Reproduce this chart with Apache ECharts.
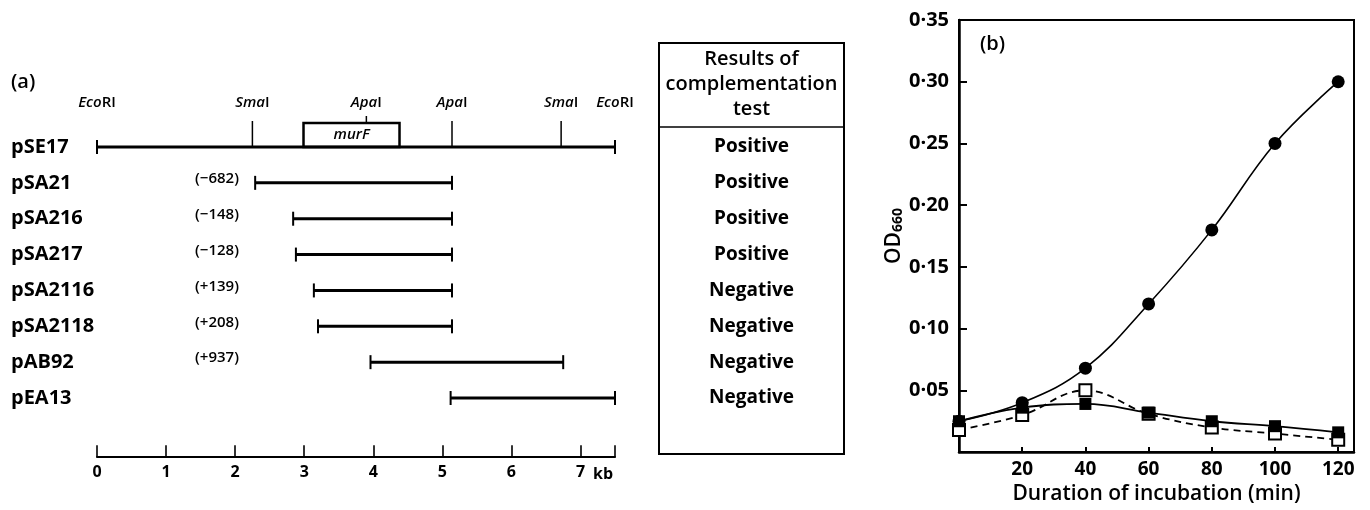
<!DOCTYPE html>
<html><head><meta charset="utf-8">
<script src="https://cdn.jsdelivr.net/npm/echarts@6/dist/echarts.min.js"></script>
<style>html,body{margin:0;padding:0;background:#fff}#c{width:1370px;height:510px}</style>
</head><body><div id="c"></div>
<script>
// ---------- Panel (a) data ----------
const constructs = ['pSE17','pSA21','pSA216','pSA217','pSA2116','pSA2118','pAB92','pEA13'];
const insertStart = [0, 2.29, 2.84, 2.88, 3.14, 3.20, 3.96, 5.12];
const insertEnd   = [7.5, 5.14, 5.14, 5.14, 5.14, 5.14, 6.75, 7.5];
const endpointLabels = ['', '(\u2212682)', '(\u2212148)', '(\u2212128)', '(+139)', '(+208)', '(+937)', ''];
const results = ['Positive','Positive','Positive','Positive','Negative','Negative','Negative','Negative'];
const tableHeader = ['Results of', 'complementation', 'test'];
const siteNames = ['EcoRI','SmaI','ApaI','ApaI','SmaI','EcoRI'];
const sitePos   = [0, 2.25, 3.90, 5.14, 6.72, 7.5];
const geneName = 'murF';
const geneSpan = [2.99, 4.38];
const scaleUnit = 'kb';

// ---------- Panel (b) data ----------
const times = [0, 20, 40, 60, 80, 100, 120];
const odCircle     = [0.025, 0.040, 0.068, 0.120, 0.180, 0.250, 0.300];
const odFilledSq   = [0.025, 0.036, 0.039, 0.032, 0.025, 0.021, 0.016];
const odOpenSq     = [0.018, 0.030, 0.050, 0.031, 0.020, 0.015, 0.010];

const FONT = "'Open Sans', 'Noto Sans', sans-serif";
const BLACK = '#000';

function txt(x, y, text, size, weight, align, extra) {
  return {type:'text', x:x, y:y, style:Object.assign({
    text:text, fill:BLACK, fontSize:size, fontFamily:FONT, fontWeight:weight||'normal',
    align:align||'center', verticalAlign:'middle'}, extra||{})};
}

const chart = echarts.init(document.getElementById('c'), null, {renderer:'canvas'});

const option = {
  animation:false,
  backgroundColor:'#fff',
  grid:[
    {left:97, width:518, top:39.4, height:417.8, containLabel:false},
    {left:959, right:16, top:20, bottom:57, show:true, borderColor:BLACK, borderWidth:2, backgroundColor:'transparent'}
  ],
  xAxis:[
    {gridIndex:0, type:'value', min:0, max:7.5, interval:1, position:'bottom',
     axisLine:{show:true, onZero:false, lineStyle:{color:BLACK, width:2}},
     axisTick:{show:true, inside:true, length:12, lineStyle:{color:BLACK, width:1.6}},
     axisLabel:{color:BLACK, fontSize:16, fontWeight:700, fontFamily:FONT, margin:7,
       formatter:v => (Math.abs(v - Math.round(v)) < 1e-9 ? String(v) : '')},
     splitLine:{show:false}},
    {gridIndex:1, type:'value', min:0, max:125, interval:20,
     axisLine:{show:true, onZero:false, lineStyle:{color:BLACK, width:2.5}},
     axisTick:{show:true, inside:true, length:5, lineStyle:{color:BLACK, width:2}},
     axisLabel:{color:BLACK, fontSize:19, fontWeight:700, fontFamily:FONT, margin:8,
       formatter:v => (v > 0 && v % 20 === 0 ? String(v) : '')},
     splitLine:{show:false},
     name:'Duration of incubation (min)', nameLocation:'middle', nameGap:30,
     nameTextStyle:{color:BLACK, fontSize:21, fontFamily:FONT, fontWeight:600}}
  ],
  yAxis:[
    {gridIndex:0, type:'value', min:-3, max:8.65, inverse:true, show:false},
    {gridIndex:1, type:'value', min:0, max:0.35, interval:0.05,
     axisLine:{show:true, onZero:false, lineStyle:{color:BLACK, width:2.5}},
     axisTick:{show:true, inside:true, length:8, lineStyle:{color:BLACK, width:2}},
     axisLabel:{color:BLACK, fontSize:20, fontWeight:700, fontFamily:FONT, margin:10,
       formatter:v => (v > 0.001 ? v.toFixed(2).replace('.', '\u00b7') : '')},
     splitLine:{show:false},
     name:'OD{s|660}', nameLocation:'middle', nameGap:52, nameRotate:90,
     nameTextStyle:{color:BLACK, fontSize:21, fontFamily:FONT, fontWeight:600,
       rich:{s:{fontSize:14, fontFamily:FONT, fontWeight:700, color:BLACK, verticalAlign:'bottom', padding:[9,0,0,0]}}}}
  ],
  graphic:[
    {type:'text', left:11, top:72, style:{text:'(a)', fill:BLACK, fontSize:20, fontFamily:FONT, fontWeight:600}},
    {type:'text', left:980, top:34, style:{text:'(b)', fill:BLACK, fontSize:20, fontFamily:FONT, fontWeight:600}}
  ],
  series:[
    // results table frame + header
    {type:'custom', xAxisIndex:0, yAxisIndex:0, silent:true, data:[[0,0]],
     renderItem:function(params, api){
       const L = 659, R = 844, T = 43, H = 127, B = 454, cx = (L+R)/2;
       const kids = [
         {type:'rect', shape:{x:L, y:T, width:R-L, height:B-T}, style:{fill:null, stroke:BLACK, lineWidth:2}},
         {type:'line', shape:{x1:L, y1:H, x2:R, y2:H}, style:{stroke:BLACK, lineWidth:1.5}}
       ];
       tableHeader.forEach((t, k) => kids.push(txt(cx, 59 + k*25, t, 20, 600)));
       return {type:'group', children:kids};
     }},
    // gene box
    {type:'custom', xAxisIndex:0, yAxisIndex:0, silent:true, data:[[geneSpan[0], geneSpan[1], 0]],
     renderItem:function(params, api){
       const a = api.coord([api.value(0), api.value(2)]);
       const b = api.coord([api.value(1), api.value(2)]);
       const h = 24;
       return {type:'group', children:[
         {type:'rect', shape:{x:a[0], y:a[1]-h, width:b[0]-a[0], height:h}, style:{fill:'#fff', stroke:BLACK, lineWidth:2.5}},
         txt((a[0]+b[0])/2, a[1]-h/2, geneName, 15, 600, 'center', {fontStyle:'italic'})
       ]};
     }},
    // constructs (lines, names, endpoint labels, results)
    {type:'custom', xAxisIndex:0, yAxisIndex:0, silent:true,
     data: constructs.map((n, i) => [insertStart[i], insertEnd[i], i]),
     renderItem:function(params, api){
       const row = api.value(2);
       const a = api.coord([api.value(0), row]);
       const b = api.coord([api.value(1), row]);
       const y = a[1];
       const x0 = api.coord([0, row])[0];
       const kids = [
         {type:'line', shape:{x1:a[0], y1:y, x2:b[0], y2:y}, style:{stroke:BLACK, lineWidth:3}},
         {type:'line', shape:{x1:a[0], y1:y-7, x2:a[0], y2:y+7}, style:{stroke:BLACK, lineWidth:2}},
         {type:'line', shape:{x1:b[0], y1:y-7, x2:b[0], y2:y+7}, style:{stroke:BLACK, lineWidth:2}},
         txt(x0 - 86, y, constructs[row], 20, 700, 'left')
       ];
       if (endpointLabels[row]) kids.push(txt(x0 + 120, y - 4, endpointLabels[row], 15, 600, 'center'));
       kids.push(txt(751.5, y, results[row], 19, 700, 'center'));
       return {type:'group', children:kids};
     }},
    // restriction sites
    {type:'custom', xAxisIndex:0, yAxisIndex:0, silent:true,
     data: sitePos.map((p, i) => [p, i]),
     renderItem:function(params, api){
       const p = api.value(0);
       const c = api.coord([p, 0]);
       const name = siteNames[api.value(1)];
       const m = name.match(/^([A-Z][a-z]+)(.*)$/);
       const inGene = p > geneSpan[0] && p < geneSpan[1];
       const kids = [];
       if (p > 0 && p < 7.5) {
         if (inGene) kids.push({type:'line', shape:{x1:c[0], y1:c[1]-31, x2:c[0], y2:c[1]-24}, style:{stroke:BLACK, lineWidth:1.5}});
         else kids.push({type:'line', shape:{x1:c[0], y1:c[1]-26, x2:c[0], y2:c[1]}, style:{stroke:BLACK, lineWidth:1.5}});
       }
       kids.push({type:'text', x:c[0], y:c[1]-44, style:{
         text:'{i|' + m[1] + '}{r|' + m[2] + '}', fill:BLACK, fontSize:15, fontFamily:FONT, fontWeight:600,
         align:'center', verticalAlign:'middle',
         rich:{i:{fontStyle:'italic', fontSize:15, fontFamily:FONT, fontWeight:600, fill:BLACK},
               r:{fontSize:15, fontFamily:FONT, fontWeight:600, fill:BLACK}}}});
       return {type:'group', children:kids};
     }},
    // scale unit
    {type:'custom', xAxisIndex:0, yAxisIndex:0, silent:true, data:[[7.5, 8.65]],
     renderItem:function(params, api){
       const c = api.coord([api.value(0), api.value(1)]);
       return txt(c[0] - 12, c[1] + 17, scaleUnit, 16, 700, 'center');
     }},
    // panel (b)
    {type:'line', xAxisIndex:1, yAxisIndex:1, data: times.map((t,i)=>[t, odCircle[i]]),
     smooth:0.4, symbol:'circle', symbolSize:13, showSymbol:true,
     lineStyle:{color:BLACK, width:1.6}, itemStyle:{color:BLACK}, z:2, silent:true},
    {type:'line', xAxisIndex:1, yAxisIndex:1, data: times.map((t,i)=>[t, odOpenSq[i]]),
     smooth:0.4, symbol:'rect', symbolSize:12, showSymbol:true,
     lineStyle:{color:BLACK, width:1.8, type:[7,5]}, itemStyle:{color:'#fff', borderColor:BLACK, borderWidth:2}, z:3, silent:true},
    {type:'line', xAxisIndex:1, yAxisIndex:1, data: times.map((t,i)=>[t, odFilledSq[i]]),
     smooth:0.4, symbol:'rect', symbolSize:12, showSymbol:true,
     lineStyle:{color:BLACK, width:1.8}, itemStyle:{color:BLACK}, z:4, silent:true}
  ]
};
chart.setOption(option);
</script>
</body></html>
